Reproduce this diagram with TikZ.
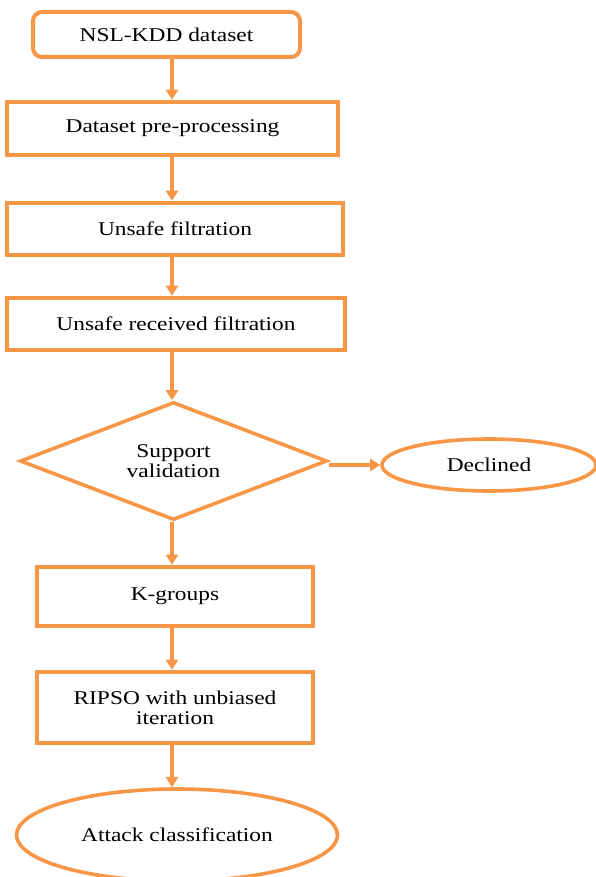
\documentclass[tikz,border=0pt]{standalone}
\usepackage{fontspec}
\setmainfont{Liberation Serif}[FakeStretch=1.2]
\usetikzlibrary{shapes.geometric,arrows.meta}
\definecolor{flow}{HTML}{F79646}
\tikzset{
  base/.style={draw=flow, text=black, align=center, inner sep=0pt,
    font=\fontsize{19.5}{20}\selectfont},
  roundbox/.style={base, rectangle, rounded corners=9pt, line width=4pt},
  sqbox/.style={base, rectangle, line width=4.6pt},
  decide/.style={base, diamond, line width=3.6pt},
  oval/.style={base, ellipse, line width=3.6pt},
  flowarrow/.style={draw=flow, line width=3.4pt,
    -{Triangle[length=10pt,width=12pt]}}
}
\begin{document}
\begin{tikzpicture}[x=1pt,y=-1pt]
\useasboundingbox (0,0) rectangle (595,877);
\coordinate (col) at (172,0);
\node[roundbox, minimum width=267pt, minimum height=45pt] (n1) at (166.5,34.5) {NSL-KDD dataset};
\node[sqbox, minimum width=331pt, minimum height=53pt] (n2) at (172.5,128.5) {Dataset pre-processing};
\node[sqbox, minimum width=336pt, minimum height=52pt] (n3) at (175,229) {Unsafe filtration};
\node[sqbox, minimum width=338pt, minimum height=52pt] (n4) at (176,324) {Unsafe received filtration};
\node[decide, minimum width=307pt, minimum height=118pt, aspect=2.6] (d) at (173.5,461) {Support\\validation};
\node[oval, minimum width=214pt, minimum height=52pt] (dec) at (489,465) {Declined};
\node[sqbox, minimum width=276pt, minimum height=59pt] (k) at (175,596.5) {K-groups};
\node[sqbox, minimum width=276pt, minimum height=71pt] (r) at (175,707.5) {RIPSO with unbiased\\iteration};
\node[oval, minimum width=321pt, minimum height=92pt] (a) at (177,835) {Attack classification};
\draw[flowarrow] (n1.south -| col) -- (n2.north -| col);
\draw[flowarrow] (n2.south -| col) -- (n3.north -| col);
\draw[flowarrow] (n3.south -| col) -- (n4.north -| col);
\draw[flowarrow] (n4.south -| col) -- (d.north -| col);
\draw[flowarrow] (d.east |- dec.west) -- (dec.west);
\draw[flowarrow] (d.south -| col) -- (k.north -| col);
\draw[flowarrow] (k.south -| col) -- (r.north -| col);
\draw[flowarrow] (r.south -| col) -- (a.north -| col);
\end{tikzpicture}
\end{document}
